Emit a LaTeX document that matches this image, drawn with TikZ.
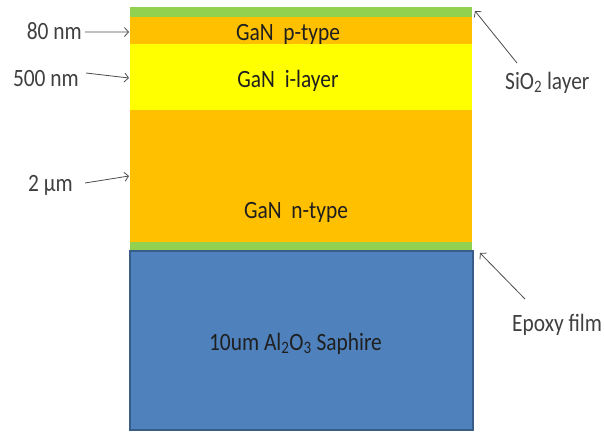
\documentclass[tikz,border=0pt]{standalone}
\usepackage{fontspec}
\setmainfont{Carlito}[FakeStretch=0.86]
\usetikzlibrary{positioning, arrows.meta, calc}

\definecolor{oxgreen}{HTML}{92D050}
\definecolor{ganorange}{HTML}{FFC000}
\definecolor{ganyellow}{HTML}{FFFF00}
\definecolor{sapblue}{HTML}{4F81BD}
\definecolor{sapedge}{HTML}{385D8A}

\begin{document}
\begin{tikzpicture}[
  x=1bp, y=-1bp,
  font=\fontsize{25}{30}\selectfont,
  layer/.style={minimum width=342bp, inner sep=0pt, outer sep=0pt},
  intxt/.style={inner sep=0pt, anchor=base, text=black!88},
  lbl/.style={inner sep=0pt, text=black!75},
  ptr/.style={-{Straight Barb[length=4bp,width=9bp]}, line width=0.8bp, draw=black!70}
]
\useasboundingbox (0,0) rectangle (604,431);

% --- layer stack ---
\node[layer, fill=oxgreen, minimum height=10bp] (sio2) at (301,12) {};
\node[layer, fill=ganorange, minimum height=27bp] (ptype) at (301,30.5) {};
\node[layer, fill=ganyellow, minimum height=66bp] (ilayer) at (301,77) {};
\node[layer, fill=ganorange, minimum height=132bp] (ntype) at (301,176) {};
\node[layer, fill=oxgreen, minimum height=9bp] (epoxy) at (301,246.5) {};
\node[layer, fill=sapblue, draw=sapedge, line width=1.5bp, minimum width=343bp,
  minimum height=179bp] (saph) at (301.5,340.5) {};

% layer names
\node[intxt] (ptxt) at (288,40) {GaN\ \ p-type};
\node[intxt] (itxt) at (288,87) {GaN\ \ i-layer};
\node[intxt] (ntxt) at (296,218) {GaN\ \ n-type};
\node[intxt] (stxt) at (295.5,350) {10um Al\textsubscript{2}O\textsubscript{3} Saphire};

% --- thickness labels (left) ---
\node[lbl, anchor=base east] (l80) at (82,39) {80 nm};
\node[lbl, anchor=base east] (l500) at (79,86) {500 nm};
\node[lbl, anchor=base east] (l2um) at (73,191) {2 μm};

\draw[ptr] ($(l80.base east)+(3,-7)$) -- ($(ptype.west)+(-1,1.5)$);
\draw[ptr] ($(l500.base east)+(7,-13)$) -- ($(ilayer.west)+(-1,1)$);
\draw[ptr] ($(l2um.base east)+(12,-8)$) -- ($(ntype.west)+(-1,0)$);

% --- film labels (right) ---
\node[lbl, anchor=base west] (lsio2) at (505,89) {SiO\textsubscript{2} layer};
\node[lbl, anchor=base west] (lepoxy) at (512,331) {Epoxy film};

\draw[ptr] ($(lsio2.base west)+(12,-26)$) -- ($(sio2.east)+(3,-1)$);
\draw[ptr] ($(lepoxy.base west)+(13,-32)$) -- ($(epoxy.south east)+(8,2)$);

\end{tikzpicture}
\end{document}
